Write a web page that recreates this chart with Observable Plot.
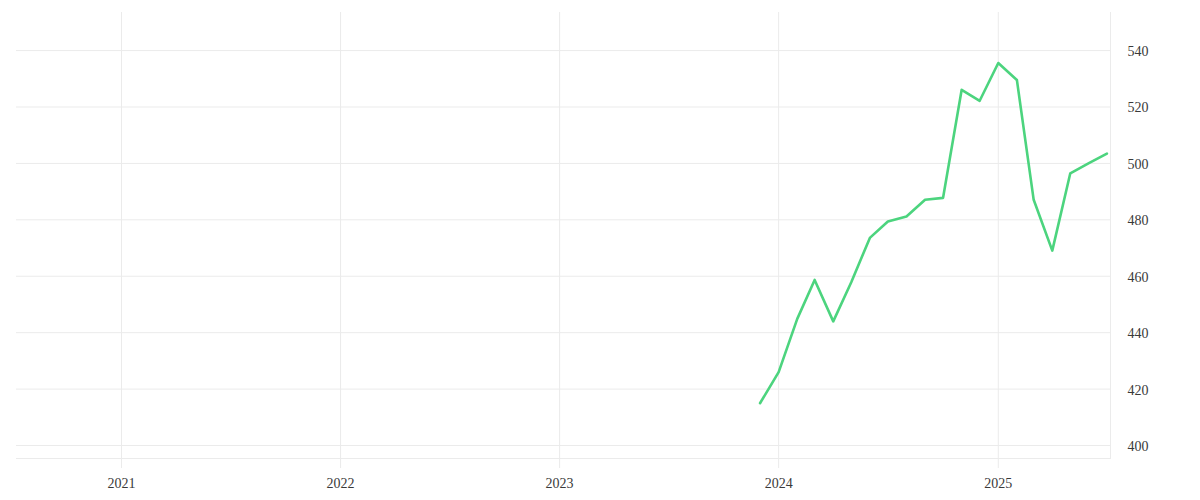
<!DOCTYPE html>
<html>
<head>
<meta charset="utf-8">
<script src="https://cdn.jsdelivr.net/npm/d3@7"></script>
<script src="https://cdn.jsdelivr.net/npm/@observablehq/plot@0.6"></script>
<style>
  html, body { margin: 0; padding: 0; background: #fff; }
  #chart svg { display: block; }
</style>
</head>
<body>
<div id="chart"></div>
<script>
const dates = [
  "2023-12-01","2024-01-01","2024-02-01","2024-03-01","2024-04-01","2024-05-01",
  "2024-06-01","2024-07-01","2024-08-01","2024-09-01","2024-10-01","2024-11-01",
  "2024-12-01","2025-01-01","2025-02-01","2025-03-01","2025-04-01","2025-05-01",
  "2025-06-01","2025-07-01"
];
const values = [
  415.0, 426.0, 444.9, 458.7, 444.0, 457.9,
  473.6, 479.4, 481.2, 487.1, 487.8, 526.1,
  522.2, 535.6, 529.6, 487.1, 469.1, 496.5,
  500.1, 503.5
];
const yTicks = [400, 420, 440, 460, 480, 500, 520, 540];
const xTickYears = ["2021-01-01","2022-01-01","2023-01-01","2024-01-01","2025-01-01"];
const xDomain = ["2020-07-10", "2025-07-07"];
const yDomain = [395.4, 553.5];

const data = dates.map((d, i) => ({date: new Date(d), value: values[i]}));
const gridColor = "#ebebeb";

const chart = Plot.plot({
  width: 1200,
  height: 500,
  marginTop: 12,
  marginBottom: 42,
  marginLeft: 16,
  marginRight: 90,
  style: {fontFamily: "'Liberation Serif', serif", fontSize: "14px", color: "#444", background: "#fff"},
  x: {type: "utc", domain: xDomain.map(d => new Date(d))},
  y: {domain: yDomain},
  marks: [
    Plot.gridY(yTicks, {stroke: gridColor, strokeOpacity: 1}),
    Plot.gridX(xTickYears.map(d => new Date(d)), {stroke: gridColor, strokeOpacity: 1}),
    Plot.frame({anchor: "right", stroke: gridColor, strokeOpacity: 1}),
    Plot.frame({anchor: "bottom", stroke: gridColor, strokeOpacity: 1}),
    Plot.axisX(xTickYears.map(d => new Date(d)), {
      tickSize: 10, tickPadding: 10, stroke: gridColor, strokeOpacity: 1,
      tickFormat: d3.utcFormat("%Y"), fill: "#3a3a3a", label: null
    }),
    Plot.axisY(yTicks, {
      anchor: "right", tickSize: 0, tickPadding: 17, fill: "#3a3a3a", label: null, dy: 1
    }),
    Plot.lineY(data, {x: "date", y: "value", stroke: "#4cd47e", strokeWidth: 2.6})
  ]
});
document.getElementById("chart").appendChild(chart);
</script>
</body>
</html>
